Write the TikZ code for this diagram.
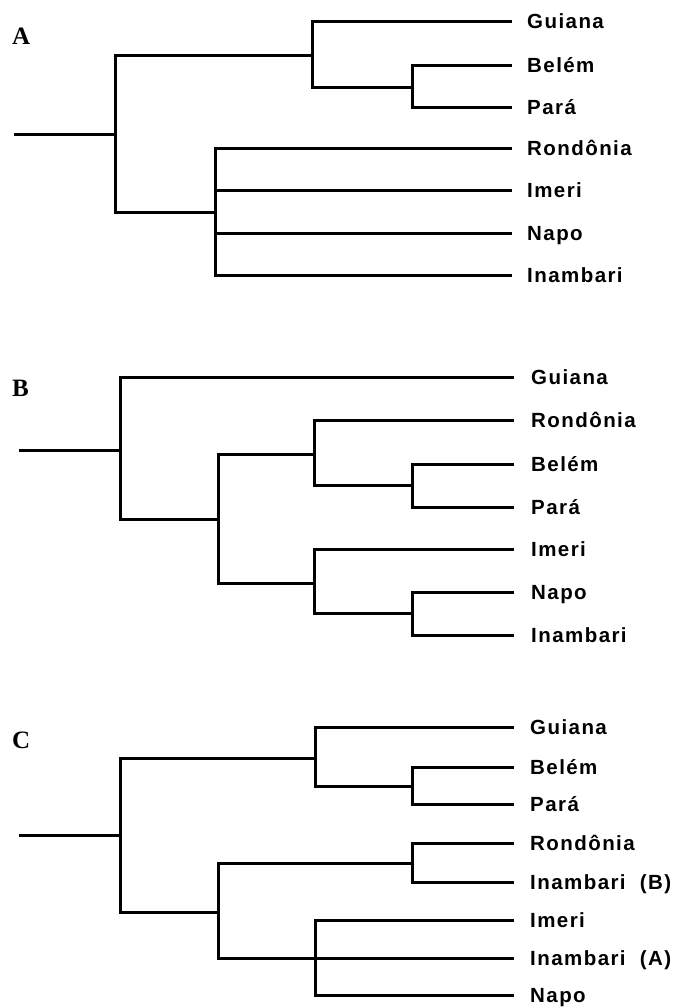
\documentclass[tikz,border=0pt]{standalone}
\usepackage{fontspec}
\setmainfont{Liberation Serif}
\newfontfamily\leaffont[LetterSpace=7]{Liberation Sans Bold}
\newfontfamily\panelfont{Liberation Serif Bold}
\begin{document}
\begin{tikzpicture}[x=1pt,y=-1pt,
  branch/.style={line width=3pt, line cap=rect, line join=miter},
  leaf/.style={anchor=west, inner xsep=0pt, inner ysep=0pt, text height=14.5pt, text depth=0pt,
    font=\leaffont\fontsize{20.5}{20.5}\selectfont},
  panel/.style={anchor=west, inner sep=0pt, font=\panelfont\fontsize{25}{25}\selectfont}]
\useasboundingbox (0,0) rectangle (678,1007);

% ---------------- Tree A ----------------
\node[panel] (pA) at (12,36) {A};
\coordinate (rA) at (15,134);
\coordinate (a1) at (115,134);
\coordinate (a2) at (312,55);
\coordinate (a3) at (412,87);
\coordinate (a4) at (215,212);
\coordinate (eA1) at (510,21);
\coordinate (eA2) at (510,65);
\coordinate (eA3) at (510,107);
\coordinate (eA4) at (510,148);
\coordinate (eA5) at (510,190);
\coordinate (eA6) at (510,233);
\coordinate (eA7) at (510,275);
\node[leaf] (lA1) at (527,21) {Guiana};
\node[leaf] (lA2) at (527,65) {Belém};
\node[leaf] (lA3) at (527,107) {Pará};
\node[leaf] (lA4) at (527,148) {Rondônia};
\node[leaf] (lA5) at (527,190) {Imeri};
\node[leaf] (lA6) at (527,233) {Napo};
\node[leaf] (lA7) at (527,275) {Inambari};
\draw[branch] (rA) -- (a1);
\draw[branch] (a1) |- (a2);
\draw[branch] (a1) |- (a4);
\draw[branch] (a2) |- (eA1);
\draw[branch] (a2) |- (a3);
\draw[branch] (a3) |- (eA2);
\draw[branch] (a3) |- (eA3);
\draw[branch] (a4) |- (eA4);
\draw[branch] (a4) |- (eA5);
\draw[branch] (a4) |- (eA6);
\draw[branch] (a4) |- (eA7);

% ---------------- Tree B ----------------
\node[panel] (pB) at (12,388) {B};
\coordinate (rB) at (20,450);
\coordinate (b1) at (120,450);
\coordinate (b2) at (218,519);
\coordinate (b3) at (314,454);
\coordinate (b4) at (412,485);
\coordinate (b5) at (314,583);
\coordinate (b6) at (412,613);
\coordinate (eB1) at (512,377);
\coordinate (eB2) at (512,420);
\coordinate (eB3) at (512,464);
\coordinate (eB4) at (512,507);
\coordinate (eB5) at (512,549);
\coordinate (eB6) at (512,592);
\coordinate (eB7) at (512,635);
\node[leaf] (lB1) at (531,377) {Guiana};
\node[leaf] (lB2) at (531,420) {Rondônia};
\node[leaf] (lB3) at (531,464) {Belém};
\node[leaf] (lB4) at (531,507) {Pará};
\node[leaf] (lB5) at (531,549) {Imeri};
\node[leaf] (lB6) at (531,592) {Napo};
\node[leaf] (lB7) at (531,635) {Inambari};
\draw[branch] (rB) -- (b1);
\draw[branch] (b1) |- (eB1);
\draw[branch] (b1) |- (b2);
\draw[branch] (b2) |- (b3);
\draw[branch] (b2) |- (b5);
\draw[branch] (b3) |- (eB2);
\draw[branch] (b3) |- (b4);
\draw[branch] (b4) |- (eB3);
\draw[branch] (b4) |- (eB4);
\draw[branch] (b5) |- (eB5);
\draw[branch] (b5) |- (b6);
\draw[branch] (b6) |- (eB6);
\draw[branch] (b6) |- (eB7);

% ---------------- Tree C ----------------
\node[panel] (pC) at (12,740) {C};
\coordinate (rC) at (20,835);
\coordinate (c1) at (120,835);
\coordinate (c2) at (315,758);
\coordinate (c3) at (412,786);
\coordinate (c4) at (218,912);
\coordinate (c5) at (412,863);
\coordinate (c6) at (315,958);
\coordinate (eC1) at (512,727);
\coordinate (eC2) at (512,767);
\coordinate (eC3) at (512,804);
\coordinate (eC4) at (512,843);
\coordinate (eC5) at (512,882);
\coordinate (eC6) at (512,920);
\coordinate (eC7) at (512,958);
\coordinate (eC8) at (512,995);
\node[leaf] (lC1) at (530,727) {Guiana};
\node[leaf] (lC2) at (530,767) {Belém};
\node[leaf] (lC3) at (530,804) {Pará};
\node[leaf] (lC4) at (530,843) {Rondônia};
\node[leaf] (lC5) at (530,882) {Inambari\ \ (B)};
\node[leaf] (lC6) at (530,920) {Imeri};
\node[leaf] (lC7) at (530,958) {Inambari\ \ (A)};
\node[leaf] (lC8) at (530,995) {Napo};
\draw[branch] (rC) -- (c1);
\draw[branch] (c1) |- (c2);
\draw[branch] (c1) |- (c4);
\draw[branch] (c2) |- (eC1);
\draw[branch] (c2) |- (c3);
\draw[branch] (c3) |- (eC2);
\draw[branch] (c3) |- (eC3);
\draw[branch] (c4) |- (c5);
\draw[branch] (c4) |- (c6);
\draw[branch] (c5) |- (eC4);
\draw[branch] (c5) |- (eC5);
\draw[branch] (c6) -- (eC7);
\draw[branch] (c6) |- (eC6);
\draw[branch] (c6) |- (eC8);
\end{tikzpicture}
\end{document}
